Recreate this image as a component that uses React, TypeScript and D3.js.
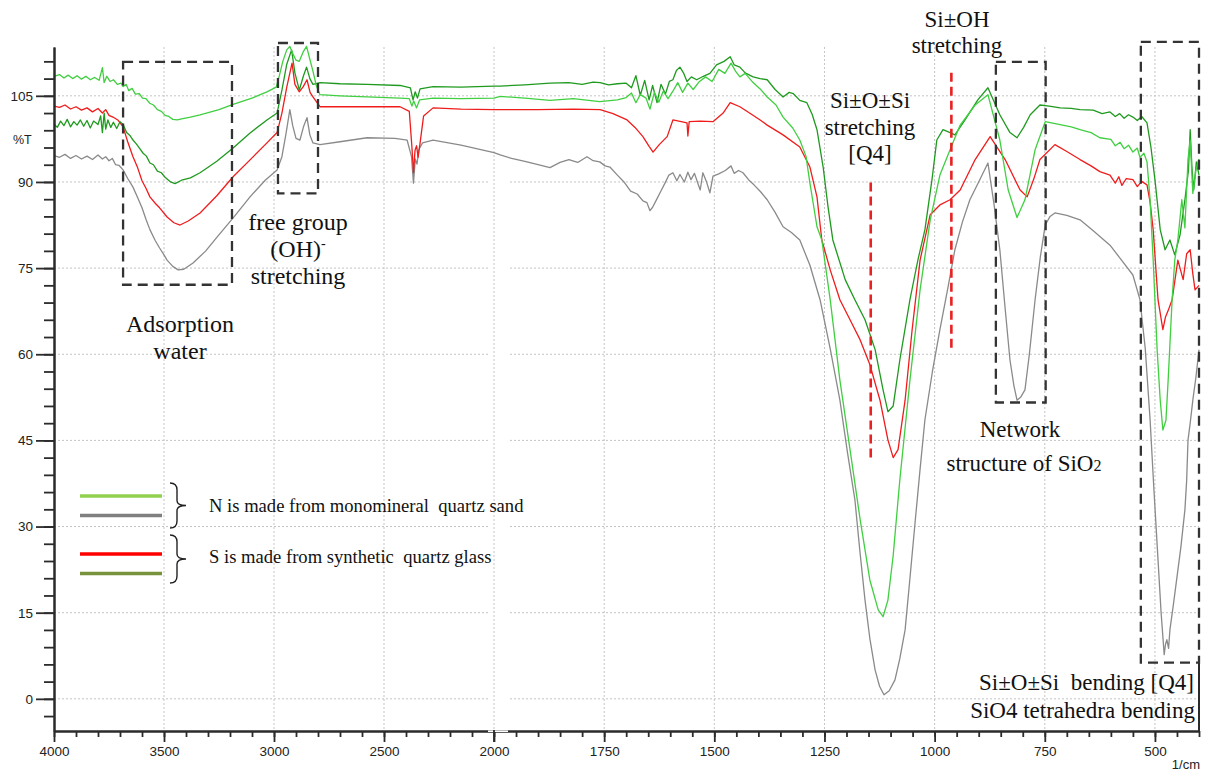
import React, { useRef, useEffect } from "react"
import * as d3 from "d3"

// FTIR spectra: [wavenumber 1/cm, %T]
const n_green = [
  [4000, 108.4], [3975, 108.7], [3955, 108.1], [3935, 108.6], [3915, 108.0], [3895, 108.5], [3875, 107.9],
  [3855, 108.4], [3835, 107.8], [3815, 108.2], [3795, 107.7], [3780, 109.9], [3772, 107.3], [3760, 108.4],
  [3745, 107.5], [3730, 107.8], [3712, 107.0], [3695, 107.2], [3686, 106.6], [3672, 107.0], [3660, 105.9],
  [3645, 106.3], [3630, 105.3], [3612, 105.4], [3598, 104.6], [3582, 104.5], [3565, 103.7], [3548, 103.4],
  [3530, 102.6], [3512, 102.3], [3495, 101.6], [3478, 101.4], [3460, 100.9], [3440, 100.8], [3420, 101.0],
  [3380, 101.3], [3336, 101.7], [3250, 102.6], [3186, 103.5], [3100, 104.6], [3032, 105.7], [2990, 106.5],
  [2975, 108.6], [2960, 111.0], [2942, 113.0], [2928, 113.6], [2915, 112.4], [2900, 111.2], [2885, 111.0],
  [2868, 112.6], [2852, 113.6], [2838, 111.5], [2823, 109.3], [2808, 106.8], [2791, 105.2], [2700, 105.0],
  [2577, 104.8], [2427, 104.6], [2385, 104.5], [2373, 103.2], [2365, 104.1], [2352, 102.9], [2338, 104.3],
  [2277, 104.6], [2150, 104.5], [2000, 104.6],
  [1986, 104.9], [1930, 104.6], [1873, 104.2], [1820, 104.5], [1760, 104.0], [1720, 104.3], [1700, 104.7],
  [1688, 105.5], [1678, 103.8], [1668, 105.2], [1655, 104.6], [1646, 102.7], [1636, 105.6], [1626, 103.9],
  [1616, 105.8], [1605, 104.5], [1594, 105.8], [1583, 107.3], [1572, 105.6], [1560, 107.2], [1548, 106.1],
  [1535, 107.4], [1520, 108.3], [1505, 107.5], [1490, 109.6], [1476, 108.9], [1462, 110.7], [1452, 109.3],
  [1442, 108.3], [1430, 108.9], [1412, 107.3], [1396, 106.2], [1380, 104.8], [1360, 103.4], [1344, 101.3],
  [1322, 99.4], [1306, 97.3], [1292, 94.5], [1283, 89.8], [1267, 82.2], [1256, 79.9], [1237, 69.5],
  [1215, 55.5], [1192, 43.4], [1169, 31.2], [1147, 20.7], [1128, 15.5], [1117, 14.3], [1106, 17.2],
  [1094, 25.0], [1079, 38.1], [1056, 55.5], [1033, 71.2], [1010, 83.4], [988, 91.2], [965, 95.6],
  [942, 99.9], [908, 103.4], [879, 105.2], [852, 97.3], [833, 88.6], [813, 83.8], [795, 86.9], [772, 95.6],
  [749, 100.5], [715, 100.0], [690, 99.6], [670, 99.1], [645, 98.6], [625, 97.7], [600, 97.4], [590, 96.3],
  [579, 96.9], [570, 95.8], [560, 96.4], [550, 95.2], [540, 95.9], [534, 94.3], [525, 95.0], [518, 93.5],
  [511, 86.9], [504, 76.4], [495, 60.8], [488, 52.0], [482, 46.8], [475, 48.5], [470, 55.5], [461, 69.5],
  [455, 76.4], [448, 79.9], [439, 86.9], [432, 82.0], [425, 93.9], [420, 97.3], [414, 88.0], [407, 92.0],
  [400, 94.0],
]

const n_gray = [
  [4000, 94.6], [3975, 94.3], [3950, 94.8], [3925, 94.1], [3900, 94.6], [3875, 94.0], [3850, 94.5],
  [3825, 93.9], [3800, 94.7], [3780, 94.0], [3765, 94.4], [3750, 93.7], [3735, 94.1], [3720, 93.0],
  [3705, 92.9], [3686, 92.1], [3665, 90.6], [3641, 89.1], [3620, 87.3], [3600, 85.5], [3582, 83.5],
  [3564, 81.7], [3540, 79.8], [3520, 78.5], [3500, 77.3], [3486, 76.4], [3460, 75.3], [3436, 74.7],
  [3410, 74.8], [3368, 75.9], [3310, 78.0], [3259, 80.4], [3180, 84.0], [3109, 87.4], [3040, 90.3],
  [2986, 92.1], [2964, 94.4], [2945, 98.5], [2928, 102.6], [2915, 99.8], [2900, 97.6], [2882, 97.3],
  [2866, 99.6], [2850, 101.2], [2837, 98.2], [2823, 96.8], [2791, 96.5], [2700, 97.0], [2577, 97.7],
  [2450, 97.6], [2395, 97.3], [2375, 94.4], [2366, 89.8], [2358, 94.0], [2350, 93.1], [2342, 95.6],
  [2325, 96.8], [2277, 97.3], [2150, 96.4], [2000, 95.1],
  [1986, 94.7], [1960, 94.1], [1930, 93.6], [1900, 93.0], [1873, 92.5], [1850, 93.4], [1830, 93.9],
  [1810, 93.4], [1789, 94.4], [1775, 93.7], [1760, 93.5], [1748, 92.8], [1737, 92.6], [1720, 91.2],
  [1705, 90.0], [1690, 88.4], [1675, 87.9], [1662, 86.7], [1653, 86.4], [1646, 85.0], [1640, 85.6],
  [1632, 86.8], [1622, 88.3], [1612, 89.8], [1603, 91.2], [1594, 91.6], [1585, 90.2], [1578, 91.3],
  [1568, 90.0], [1560, 91.7], [1553, 90.4], [1545, 91.5], [1538, 89.9], [1532, 88.6], [1526, 91.6],
  [1518, 90.1], [1510, 88.1], [1503, 91.0], [1490, 91.4], [1475, 92.0], [1462, 92.8], [1455, 91.5],
  [1445, 92.0], [1435, 91.6], [1420, 90.2], [1410, 89.5], [1395, 88.3], [1380, 86.9], [1362, 84.7],
  [1344, 82.2], [1325, 81.2], [1306, 79.9], [1283, 75.5], [1260, 69.5], [1237, 61.0], [1215, 52.0],
  [1198, 43.0], [1181, 34.7], [1170, 26.0], [1158, 17.2], [1147, 10.5], [1135, 5.0], [1125, 2.2],
  [1115, 0.7], [1103, 1.4], [1090, 3.3], [1079, 7.0], [1067, 12.0], [1056, 21.0], [1044, 31.0],
  [1033, 40.0], [1022, 48.6], [1005, 57.0], [988, 64.3], [970, 71.5], [954, 78.2], [937, 83.0],
  [920, 86.9], [900, 90.0], [879, 93.3], [865, 86.0], [852, 78.2], [840, 68.0], [829, 59.0], [820, 54.5],
  [813, 52.0], [805, 52.5], [795, 53.8], [785, 60.0], [772, 69.5], [760, 77.0], [749, 82.5], [738, 84.0],
  [727, 84.6], [700, 84.2], [670, 83.4], [640, 81.5], [602, 79.0], [575, 76.3], [550, 73.8], [534, 69.5],
  [522, 61.0], [511, 48.6], [502, 36.0], [493, 24.2], [486, 15.0], [479, 7.7], [476, 9.5], [473, 10.3],
  [469, 8.8], [466, 12.0], [458, 16.5], [450, 21.2], [441, 26.5], [432, 32.9], [428, 38.0], [425, 45.0],
  [420, 48.0], [414, 52.0], [407, 56.0], [400, 60.8],
]

const s_red = [
  [4000, 103.2], [3975, 103.0], [3950, 103.4], [3925, 102.7], [3900, 103.1], [3875, 102.5], [3850, 102.9],
  [3825, 102.2], [3800, 102.8], [3780, 102.0], [3765, 102.6], [3750, 101.6], [3732, 101.3], [3710, 100.8],
  [3686, 99.6], [3665, 97.0], [3641, 94.4], [3620, 92.5], [3600, 90.2], [3582, 88.9], [3564, 87.4],
  [3540, 86.3], [3520, 85.5], [3486, 83.9], [3455, 82.9], [3427, 82.5], [3390, 83.2], [3336, 84.6],
  [3260, 87.6], [3186, 90.9], [3110, 93.8], [3032, 96.8], [2986, 98.6], [2964, 102.0], [2942, 106.5],
  [2918, 110.7], [2905, 107.0], [2885, 105.7], [2867, 106.6], [2850, 107.8], [2836, 105.6], [2823, 104.8],
  [2791, 103.1], [2600, 103.1], [2427, 103.1], [2385, 102.3], [2373, 96.0], [2366, 91.6], [2359, 95.5],
  [2352, 96.3], [2345, 94.3], [2337, 96.5], [2320, 101.5], [2277, 102.9], [2150, 102.7], [2000, 102.6],
  [1986, 102.6], [1900, 102.6], [1820, 102.7], [1759, 102.6], [1730, 101.9], [1698, 100.8], [1680, 99.5],
  [1662, 97.9], [1648, 96.2], [1639, 95.2], [1625, 96.5], [1607, 97.9], [1594, 100.8], [1575, 100.5],
  [1562, 100.3], [1560, 98.0], [1557, 100.5], [1532, 100.6], [1503, 100.5], [1480, 102.0], [1464, 103.8],
  [1442, 103.1], [1420, 102.0], [1396, 100.8], [1380, 99.9], [1344, 98.2], [1306, 96.1], [1283, 92.6],
  [1267, 87.4], [1256, 79.9], [1237, 74.7], [1215, 69.5], [1192, 66.0], [1169, 62.5], [1147, 58.2],
  [1124, 52.0], [1106, 45.1], [1094, 42.0], [1083, 43.4], [1067, 52.0], [1051, 64.3], [1033, 76.4],
  [1010, 84.3], [988, 86.0], [965, 86.9], [942, 88.6], [908, 93.9], [874, 97.9], [840, 93.9], [806, 88.6],
  [790, 87.4], [775, 90.5], [761, 93.9], [727, 96.5], [700, 95.3], [670, 93.9], [645, 92.8], [625, 91.8],
  [602, 91.2], [590, 89.8], [582, 90.9], [575, 89.4], [565, 90.6], [550, 90.4], [540, 89.2], [530, 90.1],
  [518, 89.5], [511, 86.5], [504, 81.7], [493, 69.5], [482, 64.3], [476, 66.5], [470, 67.6], [461, 69.5],
  [448, 76.4], [436, 73.0], [428, 77.5], [420, 78.2], [414, 74.0], [409, 71.2], [400, 72.0],
]

const s_green = [
  [4000, 100.1], [3985, 99.5], [3970, 100.6], [3955, 99.8], [3940, 100.9], [3925, 99.6], [3910, 100.5],
  [3895, 99.9], [3880, 100.8], [3865, 99.7], [3850, 100.7], [3835, 99.4], [3820, 100.6], [3800, 100.0],
  [3788, 101.5], [3780, 98.6], [3772, 102.0], [3765, 99.2], [3755, 100.8], [3742, 99.5], [3730, 100.4],
  [3715, 99.3], [3700, 100.5], [3686, 100.0], [3670, 98.6], [3655, 98.1], [3641, 97.3], [3625, 96.6],
  [3610, 95.8], [3595, 95.0], [3580, 94.5], [3564, 93.3], [3548, 93.0], [3530, 91.9], [3512, 91.6],
  [3495, 90.8], [3470, 90.0], [3450, 89.7], [3420, 90.3], [3380, 90.7], [3336, 91.6], [3260, 93.6],
  [3186, 95.9], [3110, 98.5], [3032, 100.8], [2986, 102.0], [2964, 106.0], [2942, 110.5], [2920, 113.0],
  [2905, 109.0], [2885, 106.0], [2866, 108.5], [2852, 110.0], [2837, 108.0], [2823, 107.0], [2791, 107.3],
  [2700, 107.1], [2577, 107.0], [2427, 106.8], [2380, 106.4], [2368, 104.3], [2358, 105.7], [2348, 104.6],
  [2336, 106.2], [2277, 106.6], [2150, 106.5], [2000, 106.7],
  [1986, 106.7], [1930, 106.9], [1873, 107.2], [1830, 107.3], [1800, 107.0], [1775, 107.4], [1759, 107.3],
  [1740, 106.9], [1720, 107.1], [1700, 107.2], [1688, 106.4], [1678, 108.5], [1668, 105.1], [1658, 107.7],
  [1648, 104.3], [1640, 106.8], [1630, 103.8], [1621, 107.0], [1611, 105.3], [1602, 107.5], [1594, 107.8],
  [1586, 109.4], [1578, 110.0], [1570, 109.0], [1562, 107.5], [1552, 108.3], [1540, 107.8], [1525, 108.4],
  [1510, 108.9], [1495, 110.4], [1478, 111.0], [1464, 111.8], [1455, 110.4], [1442, 110.0], [1430, 109.0],
  [1412, 108.3], [1396, 108.0], [1380, 107.8], [1362, 106.1], [1344, 104.8], [1330, 105.6], [1321, 105.4],
  [1306, 104.2], [1290, 103.8], [1278, 101.8], [1267, 99.1], [1253, 92.6], [1242, 85.7], [1231, 79.9],
  [1203, 73.0], [1181, 69.5], [1158, 66.0], [1135, 60.8], [1117, 53.8], [1106, 50.0], [1094, 51.0],
  [1079, 59.0], [1056, 69.5], [1038, 76.4], [1022, 81.7], [1006, 90.4], [995, 97.3], [981, 99.1],
  [965, 98.6], [954, 98.2], [931, 100.8], [902, 104.3], [879, 106.4], [852, 101.7], [829, 98.6],
  [813, 97.7], [798, 99.5], [783, 101.7], [761, 103.4], [740, 103.2], [715, 102.9], [690, 102.8],
  [670, 102.6], [640, 102.5], [620, 101.9], [602, 102.2], [590, 101.4], [580, 101.9], [570, 101.1],
  [560, 101.7], [550, 101.3], [540, 100.7], [530, 101.4], [518, 100.3], [509, 96.0], [500, 90.4],
  [488, 81.7], [477, 78.2], [466, 79.9], [455, 77.3], [443, 80.8], [432, 86.9], [424, 92.0], [420, 99.1],
  [416, 92.5], [412, 88.6], [406, 93.5], [400, 91.2],
]

const y_ticks = [0, 15, 30, 45, 60, 75, 90, 105]
const x_ticks = [4000, 3500, 3000, 2500, 2000, 1750, 1500, 1250, 1000, 750, 500]

const series = [
  { name: "N", data: n_gray, color: "#8a8a8a" },
  { name: "S", data: s_red, color: "#f01c1c" },
  { name: "S", data: s_green, color: "#1f9a1f" },
  { name: "N", data: n_green, color: "#40cf40" },
]

const legend = [
  { color: "#92d050", group: 0 },
  { color: "#808080", group: 0 },
  { color: "#ff0000", group: 1 },
  { color: "#77933c", group: 1 },
]
const legend_texts = [
  "N is made from monomineral  quartz sand",
  "S is made from synthetic  quartz glass",
]

const width = 1213
const height = 772
const serif = "'Liberation Serif', 'Times New Roman', serif"
const sans = "'Liberation Sans', Arial, sans-serif"

function SpectraChart() {
  const ref = useRef(null)

  useEffect(() => {
    draw_chart()
  }, [])

  function draw_chart() {
    const svg = d3.select(ref.current)
    svg.selectAll("*").remove()

    // the recorder axis is compressed 2x above 2000 1/cm
    const x = d3.scaleLinear().domain([4000, 2000, 400]).range([54, 494, 1199])
    const y = d3.scaleLinear().domain([-5.6, 113.5]).range([731, 47])

    const grid = svg.append("g").attr("stroke", "#c4c4c4").attr("stroke-dasharray", "2,2")
    grid
      .selectAll(".hgrid")
      .data(y_ticks)
      .join("line")
      .attr("x1", x(4000))
      .attr("x2", x(400))
      .attr("y1", d => y(d))
      .attr("y2", d => y(d))
    // the two scan halves were pasted together at 2000 1/cm
    grid
      .append("rect")
      .attr("x", x(2000) - 6)
      .attr("width", 20)
      .attr("y", y(113.5))
      .attr("height", y(-5.6) - y(113.5) + 3)
      .attr("fill", "#fff")
      .attr("stroke", "none")
    grid
      .selectAll(".vgrid")
      .data(x_ticks.slice(1))
      .join("line")
      .attr("x1", d => x(d))
      .attr("x2", d => x(d))
      .attr("y1", y(113.5))
      .attr("y2", y(-5.6))

    const line = d3
      .line()
      .x(d => x(d[0]))
      .y(d => y(d[1]))

    svg
      .append("g")
      .selectAll("path")
      .data(series)
      .join("path")
      .attr("d", d => line(d.data))
      .attr("fill", "none")
      .attr("stroke", d => d.color)
      .attr("stroke-width", 1.3)
      .attr("stroke-linejoin", "round")

    // axes
    const yMinor = d3.range(-3, 112, 3)
    const xMinor = d3.range(4000, 2000, -100).concat(d3.range(2000, 399, -50))
    const fmt = d3.format("d")

    const yAxis = svg.append("g").attr("transform", `translate(${x(4000)},0)`)
    yAxis.call(d3.axisLeft(y).tickValues(yMinor).tickSize(10).tickSizeOuter(0).tickFormat(() => ""))
    yAxis.append("g").call(d3.axisLeft(y).tickValues(y_ticks).tickSize(18).tickSizeOuter(0).tickPadding(3).tickFormat(fmt))

    const xAxis = svg.append("g").attr("transform", `translate(0,${y(-5.6)})`)
    xAxis.call(d3.axisBottom(x).tickValues(xMinor).tickSize(6).tickSizeOuter(0).tickFormat(() => ""))
    xAxis.append("g").call(d3.axisBottom(x).tickValues(x_ticks).tickSize(11).tickSizeOuter(0).tickPadding(4).tickFormat(fmt))

    svg.selectAll(".domain").attr("stroke", "#2b2b2b").attr("stroke-width", 2)
    svg.selectAll(".tick line").attr("stroke", "#2b2b2b").attr("stroke-width", 1.8)
    svg
      .selectAll(".tick text")
      .attr("fill", "#222")
      .style("font-family", sans)
      .style("font-size", "13.5px")

    // break in the axis line at the paste seam, 2000 tick kept
    svg
      .append("rect")
      .attr("x", x(2000) - 6)
      .attr("width", 20)
      .attr("y", y(-5.6) - 2)
      .attr("height", 3)
      .attr("fill", "#fff")
    svg
      .append("line")
      .attr("x1", x(2000) - 6)
      .attr("x2", x(2000) + 14)
      .attr("y1", y(-5.6) - 0.5)
      .attr("y2", y(-5.6) - 0.5)
      .attr("stroke", "#bbb")
      .attr("stroke-width", 1)
    svg
      .append("line")
      .attr("x1", x(2000))
      .attr("x2", x(2000))
      .attr("y1", y(-5.6) - 1)
      .attr("y2", y(-5.6) + 11)
      .attr("stroke", "#2b2b2b")
      .attr("stroke-width", 1.8)

    svg
      .append("line")
      .attr("x1", x(400))
      .attr("x2", x(400))
      .attr("y1", 663)
      .attr("y2", y(-5.6))
      .attr("stroke", "#2b2b2b")
      .attr("stroke-width", 2)

    svg
      .append("text")
      .attr("x", 13)
      .attr("y", 144)
      .style("font-family", sans)
      .style("font-size", "12.5px")
      .attr("fill", "#222")
      .text("%T")
    svg
      .append("text")
      .attr("x", 1200)
      .attr("y", 769)
      .attr("text-anchor", "end")
      .style("font-family", sans)
      .style("font-size", "13px")
      .attr("fill", "#222")
      .text("1/cm")

    // dashed boxes round the bands
    const boxes = [
      [3686, 3191, 110.9, 72.1],
      [2982, 2800, 114.2, 88.0],
      [861, 748, 110.9, 51.6],
      [532, 400, 114.4, 6.3],
    ]
    svg
      .append("g")
      .selectAll("rect")
      .data(boxes)
      .join("rect")
      .attr("x", d => x(d[0]))
      .attr("y", d => y(d[2]))
      .attr("width", d => x(d[1]) - x(d[0]))
      .attr("height", d => y(d[3]) - y(d[2]))
      .attr("fill", "none")
      .attr("stroke", "#333")
      .attr("stroke-width", 2.3)
      .attr("stroke-dasharray", "10,6")

    const redMarks = [
      [1145, 89.9, 41.6],
      [962, 109.0, 60.8],
    ]
    svg
      .append("g")
      .selectAll("line")
      .data(redMarks)
      .join("line")
      .attr("x1", d => x(d[0]))
      .attr("x2", d => x(d[0]))
      .attr("y1", d => y(d[1]))
      .attr("y2", d => y(d[2]))
      .attr("stroke", "#e82222")
      .attr("stroke-width", 2.6)
      .attr("stroke-dasharray", "9,5")

    // legend
    const lg = svg.append("g")
    const legendY = [496, 515.5, 554, 573.5]
    lg.selectAll("line")
      .data(legend)
      .join("line")
      .attr("x1", 80)
      .attr("x2", 162)
      .attr("y1", (d, i) => legendY[i])
      .attr("y2", (d, i) => legendY[i])
      .attr("stroke", d => d.color)
      .attr("stroke-width", 3.5)
    const brace = (top, bot) => {
      const mid = (top + bot) / 2
      return `M170,${top} Q177,${top} 177,${top + 7} L177,${mid - 5} Q177,${mid} 186,${mid} Q177,${mid} 177,${mid + 5} L177,${bot - 7} Q177,${bot} 170,${bot}`
    }
    lg.selectAll("path")
      .data([[483, 528], [535, 583]])
      .join("path")
      .attr("d", d => brace(d[0], d[1]))
      .attr("fill", "none")
      .attr("stroke", "#222")
      .attr("stroke-width", 1.4)
    lg.selectAll("text")
      .data(legend_texts)
      .join("text")
      .attr("x", 209)
      .attr("y", (d, i) => (i === 0 ? 512 : 563))
      .style("font-family", serif)
      .style("font-size", "18.6px")
      .style("white-space", "pre")
      .attr("fill", "#111")
      .text(d => d)
  }

  const ann = { fontFamily: serif, fontSize: 23, fill: "#111" }
  const annLeft = { fontFamily: serif, fontSize: 24, fill: "#111" }
  return (
    <div style={{ position: "absolute", left: 0, top: 0 }}>
      <svg ref={ref} width={width} height={height} style={{ display: "block", background: "#fff" }}></svg>
      <svg width={width} height={height} style={{ position: "absolute", left: 0, top: 0 }}>
        <g style={annLeft} textAnchor="middle">
          <text x={180} y={332}>Adsorption</text>
          <text x={180} y={359}>water</text>
          <text x={298} y={230}>free group</text>
          <text x={298} y={257}>
            (OH)<tspan dy={-9} fontSize={14}>-</tspan>
          </text>
          <text x={298} y={284}>stretching</text>
        </g>
        <g style={ann} textAnchor="middle">
          <text x={957} y={27}>Si±OH</text>
          <text x={957} y={53}>stretching</text>
          <text x={870} y={108}>Si±O±Si</text>
          <text x={870} y={135}>stretching</text>
          <text x={870} y={161}>[Q4]</text>
          <text x={1020} y={437}>Network</text>
          <text x={1024} y={471}>
            structure of SiO<tspan fontSize={16}>2</tspan>
          </text>
        </g>
        <g style={ann} textAnchor="end">
          <text x={1194} y={690} style={{ whiteSpace: "pre" }}>Si±O±Si  bending [Q4]</text>
          <text x={1195} y={718}>SiO4 tetrahedra bending</text>
        </g>
      </svg>
    </div>
  )
}

export default function App() {
  return <SpectraChart />
}
